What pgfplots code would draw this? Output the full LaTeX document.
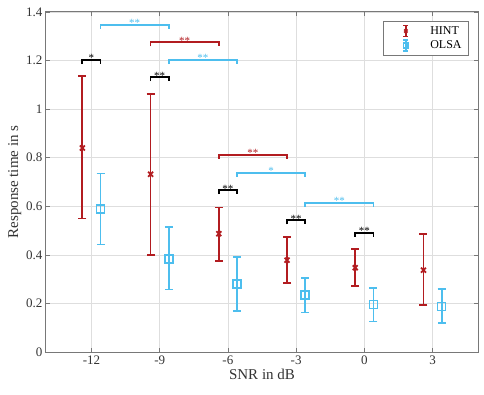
\documentclass[border=0pt]{standalone}
\usepackage{pgfplots}
\pgfplotsset{compat=1.18}
\usepackage{pgfplotstable}
\usepackage{fontspec}
\setmainfont{Liberation Serif}
\definecolor{hintred}{RGB}{178,28,32}
\definecolor{olsacyan}{RGB}{77,190,238}
\definecolor{axgray}{RGB}{120,120,120}
\pgfplotstableread{
x y ep em
-12.4 0.840 0.295 0.290
-9.4 0.732 0.330 0.332
-6.4 0.487 0.108 0.112
-3.4 0.378 0.097 0.093
-0.4 0.347 0.078 0.074
2.6 0.337 0.148 0.144
}\hint
\pgfplotstableread{
x y ep em
-11.6 0.590 0.145 0.147
-8.6 0.384 0.132 0.127
-5.6 0.280 0.110 0.110
-2.6 0.235 0.071 0.072
0.4 0.195 0.067 0.069
3.4 0.187 0.072 0.069
}\olsa
\begin{document}
\begin{tikzpicture}
\begin{axis}[
  scale only axis, width=432pt, height=340pt,
  xmin=-14, xmax=5, ymin=0, ymax=1.4,
  xtick={-12,-9,-6,-3,0,3},
  xticklabels={-12,-9,-6,-3,0,3},
  ytick={0,0.2,0.4,0.6,0.8,1,1.2,1.4},
  yticklabels={0,0.2,0.4,0.6,0.8,1,1.2,1.4},
  grid=major, grid style={color=black!13, line width=0.7pt},
  axis line style={axgray, line width=1pt},
  tick style={axgray, line width=0.7pt}, tick align=inside, major tick length=4pt,
  ticklabel style={font=\fontsize{13}{15}\selectfont, text=black!80},
  xlabel={SNR in dB}, ylabel={Response time in s},
  label style={font=\fontsize{15}{17}\selectfont, text=black!80},
  xlabel style={yshift=2pt}, ylabel style={yshift=-2pt},
  legend style={at={(1,1)}, anchor=north east, xshift=-9pt, yshift=-9pt,
    font=\fontsize{12}{14}\selectfont, draw=axgray, line width=0.8pt,
    inner xsep=5pt, inner ysep=3pt, row sep=1pt},
  legend cell align=left,
]
\addplot[hintred, only marks, mark=x, mark size=3.5pt, mark options={line width=1.8pt},
  legend image code/.code={
  \path (0pt,0pt) (39pt,0pt);
  \draw[hintred, line width=1.4pt] (17pt,-5.5pt)--(17pt,5.5pt) (14.5pt,-5.5pt)--(19.5pt,-5.5pt) (14.5pt,5.5pt)--(19.5pt,5.5pt);
  \draw[hintred, line width=1.3pt] plot[mark=x, mark size=2.3pt] coordinates {(17pt,0pt)};
  },
  error bars/.cd, y dir=both, y explicit,
  error bar style={hintred, line width=1.8pt},
  error mark options={hintred, line width=1.8pt, mark size=4pt, rotate=90}]
  table[x=x, y=y, y error plus=ep, y error minus=em] {\hint};
\addlegendentry{HINT}
\addplot[olsacyan, only marks, mark=square, mark size=4pt, mark options={line width=1.6pt},
  legend image code/.code={
  \path (0pt,0pt) (39pt,0pt);
  \draw[olsacyan, line width=1.4pt] (17pt,-5.5pt)--(17pt,5.5pt) (14.5pt,-5.5pt)--(19.5pt,-5.5pt) (14.5pt,5.5pt)--(19.5pt,5.5pt);
  \draw[olsacyan, line width=1.2pt] plot[mark=square, mark size=2.3pt] coordinates {(17pt,0pt)};
  },
  error bars/.cd, y dir=both, y explicit,
  error bar style={olsacyan, line width=1.8pt},
  error mark options={olsacyan, line width=1.8pt, mark size=4pt, rotate=90}]
  table[x=x, y=y, y error plus=ep, y error minus=em] {\olsa};
\addlegendentry{OLSA}
% significance brackets
\addplot[black, line width=1.8pt, forget plot] coordinates {(-12.4,1.185) (-12.4,1.203) (-11.6,1.203) (-11.6,1.185)};
\addplot[olsacyan, line width=1.8pt, forget plot] coordinates {(-11.6,1.33) (-11.6,1.347) (-8.6,1.347) (-8.6,1.33)};
\addplot[hintred, line width=1.8pt, forget plot] coordinates {(-9.4,1.258) (-9.4,1.275) (-6.4,1.275) (-6.4,1.258)};
\addplot[olsacyan, line width=1.8pt, forget plot] coordinates {(-8.6,1.185) (-8.6,1.203) (-5.6,1.203) (-5.6,1.185)};
\addplot[black, line width=1.8pt, forget plot] coordinates {(-9.4,1.115) (-9.4,1.132) (-8.6,1.132) (-8.6,1.115)};
\addplot[hintred, line width=1.8pt, forget plot] coordinates {(-6.4,0.795) (-6.4,0.812) (-3.4,0.812) (-3.4,0.795)};
\addplot[olsacyan, line width=1.8pt, forget plot] coordinates {(-5.6,0.721) (-5.6,0.738) (-2.6,0.738) (-2.6,0.721)};
\addplot[black, line width=1.8pt, forget plot] coordinates {(-6.4,0.650) (-6.4,0.667) (-5.6,0.667) (-5.6,0.650)};
\addplot[olsacyan, line width=1.8pt, forget plot] coordinates {(-2.6,0.598) (-2.6,0.615) (0.4,0.615) (0.4,0.598)};
\addplot[black, line width=1.8pt, forget plot] coordinates {(-3.4,0.526) (-3.4,0.543) (-2.6,0.543) (-2.6,0.526)};
\addplot[black, line width=1.8pt, forget plot] coordinates {(-0.4,0.474) (-0.4,0.491) (0.4,0.491) (0.4,0.474)};
\tikzset{star/.style={anchor=base, inner sep=0pt, font=\fontsize{11}{11}\selectfont, yshift=-2pt}}
\node[star, text=black] at (axis cs:-12,1.203) {*};
\node[star, text=olsacyan] at (axis cs:-10.1,1.347) {**};
\node[star, text=hintred] at (axis cs:-7.9,1.275) {**};
\node[star, text=olsacyan] at (axis cs:-7.1,1.203) {**};
\node[star, text=black] at (axis cs:-9,1.132) {**};
\node[star, text=hintred] at (axis cs:-4.9,0.812) {**};
\node[star, text=olsacyan] at (axis cs:-4.1,0.738) {*};
\node[star, text=black] at (axis cs:-6,0.667) {**};
\node[star, text=olsacyan] at (axis cs:-1.1,0.615) {**};
\node[star, text=black] at (axis cs:-3,0.543) {**};
\node[star, text=black] at (axis cs:0,0.491) {**};
\end{axis}
\pgfresetboundingbox
\path (-46pt,-42pt) rectangle (438pt,352pt);
\end{tikzpicture}
\end{document}
